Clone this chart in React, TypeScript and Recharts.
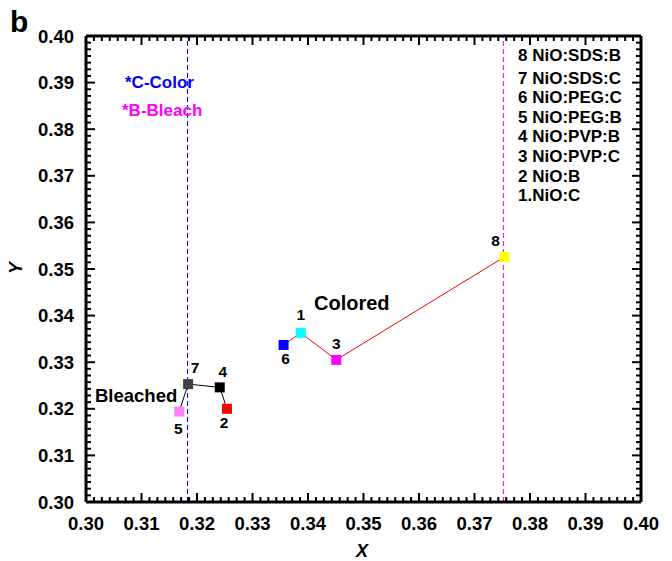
import React from 'react';
import { ScatterChart, Scatter, XAxis, YAxis, ReferenceLine } from 'recharts';

// sample points
const coloredIds = ['6', '1', '3', '8'];
const coloredX = [0.3356, 0.3387, 0.3451, 0.3754];
const coloredY = [0.3337, 0.3363, 0.3305, 0.3526];

const bleachedIds = ['5', '7', '4', '2'];
const bleachedX = [0.3168, 0.3184, 0.3241, 0.3254];
const bleachedY = [0.3194, 0.3253, 0.3246, 0.3200];

const majorTicks = [0.30, 0.31, 0.32, 0.33, 0.34, 0.35, 0.36, 0.37, 0.38, 0.39, 0.40];
const tickLabels = ['0.30', '0.31', '0.32', '0.33', '0.34', '0.35', '0.36', '0.37', '0.38', '0.39', '0.40'];

const colorLineX = 0.3183;
const bleachLineX = 0.3752;

const legendLines = [
  '8 NiO:SDS:B',
  '7 NiO:SDS:C',
  '6 NiO:PEG:C',
  '5 NiO:PEG:B',
  '4 NiO:PVP:B',
  '3 NiO:PVP:C',
  '2 NiO:B',
  '1.NiO:C',
];

const markerColors: Record<string, string> = {
  '1': '#00ffff',
  '2': '#ff0000',
  '3': '#ff00ff',
  '4': '#000000',
  '5': '#ff80ff',
  '6': '#0000ff',
  '7': '#404040',
  '8': '#ffff00',
};

const labelOffsets: Record<string, [number, number]> = {
  '1': [0, -18],
  '2': [-3, 14],
  '3': [0, -16],
  '4': [3, -16],
  '5': [-1, 17],
  '6': [2, 14],
  '7': [7, -17],
  '8': [-9, -16],
};

const FONT = '"Liberation Sans", Arial, Helvetica, sans-serif';

const coloredData = coloredIds.map((id, i) => ({ id, x: coloredX[i], y: coloredY[i] }));
const bleachedData = bleachedIds.map((id, i) => ({ id, x: bleachedX[i], y: bleachedY[i] }));

// 7 minor divisions per major step, like the original
const allTicks: number[] = [];
for (let i = 0; i <= 70; i++) allTicks.push(Math.round((0.3 + (i * 0.01) / 7) * 1e6) / 1e6);

const isMajor = (v: number) => Math.abs(v * 100 - Math.round(v * 100)) < 1e-4;
const labelFor = (v: number) => tickLabels[majorTicks.findIndex((m) => Math.abs(m - v) < 1e-6)] ?? '';

const BottomTick = ({ x, y, payload }: any) => (
  <g>
    <line x1={x} x2={x} y1={y} y2={y - (isMajor(payload.value) ? 9 : 5)} stroke="#000" strokeWidth={2} />
    <text x={x} y={y + 28} textAnchor="middle" fontSize={18.5} fontWeight="bold" fontFamily={FONT} fill="#000">
      {labelFor(payload.value)}
    </text>
  </g>
);

const TopTick = ({ x, y, payload }: any) => (
  <line x1={x} x2={x} y1={y} y2={y + (isMajor(payload.value) ? 9 : 5)} stroke="#000" strokeWidth={2} />
);

const LeftTick = ({ x, y, payload }: any) => (
  <g>
    <line x1={x} x2={x + (isMajor(payload.value) ? 9 : 5)} y1={y} y2={y} stroke="#000" strokeWidth={2} />
    <text x={x - 12} y={y + 6.5} textAnchor="end" fontSize={18.5} fontWeight="bold" fontFamily={FONT} fill="#000">
      {labelFor(payload.value)}
    </text>
  </g>
);

const RightTick = ({ x, y, payload }: any) => (
  <line x1={x} x2={x - (isMajor(payload.value) ? 9 : 5)} y1={y} y2={y} stroke="#000" strokeWidth={2} />
);

const Marker = (props: any) => {
  const { cx, cy, payload } = props;
  const id = payload.id;
  const [dx, dy] = labelOffsets[id];
  return (
    <g>
      <rect x={cx - 5} y={cy - 5} width={10} height={10} fill={markerColors[id]} />
      <text
        x={cx + dx}
        y={cy + dy + 5.5}
        textAnchor="middle"
        fontSize={15.5}
        fontWeight="bold"
        fontFamily={FONT}
        fill="#000"
      >
        {id}
      </text>
    </g>
  );
};

// html text placed by baseline (Liberation Sans, line-height 1)
const Txt = ({ left, base, size, color = '#000', italic = false, children, style }: any) => (
  <div
    style={{
      position: 'absolute',
      left,
      top: base - 0.8465 * size,
      fontSize: size,
      lineHeight: `${size}px`,
      fontFamily: FONT,
      fontWeight: 'bold',
      fontStyle: italic ? 'italic' : 'normal',
      color,
      whiteSpace: 'nowrap',
      ...style,
    }}
  >
    {children}
  </div>
);

export default function App() {
  return (
    <div style={{ position: 'absolute', left: 0, top: 0, width: 672, height: 561, background: '#fff' }}>
      <ScatterChart width={672} height={561} margin={{ top: 35, right: 30, bottom: 58, left: 85 }}>
        <XAxis
          dataKey="x"
          type="number"
          domain={[0.3, 0.4]}
          ticks={allTicks}
          interval={0}
          height={1}
          tickSize={0}
          tickMargin={0}
          tickLine={false}
          tick={<BottomTick />}
          axisLine={{ stroke: '#000', strokeWidth: 3 }}
        />
        <XAxis
          xAxisId="top"
          orientation="top"
          dataKey="x"
          type="number"
          domain={[0.3, 0.4]}
          ticks={allTicks}
          interval={0}
          height={1}
          tickSize={0}
          tickMargin={0}
          tickLine={false}
          tick={<TopTick />}
          axisLine={{ stroke: '#000', strokeWidth: 3 }}
        />
        <YAxis
          dataKey="y"
          type="number"
          domain={[0.3, 0.4]}
          ticks={allTicks}
          interval={0}
          width={1}
          tickSize={0}
          tickMargin={0}
          tickLine={false}
          tick={<LeftTick />}
          axisLine={{ stroke: '#000', strokeWidth: 3 }}
        />
        <YAxis
          yAxisId="right"
          orientation="right"
          dataKey="y"
          type="number"
          domain={[0.3, 0.4]}
          ticks={allTicks}
          interval={0}
          width={1}
          tickSize={0}
          tickMargin={0}
          tickLine={false}
          tick={<RightTick />}
          axisLine={{ stroke: '#000', strokeWidth: 3 }}
        />
        <ReferenceLine x={colorLineX} stroke="#0000cc" strokeDasharray="5 3" />
        <ReferenceLine x={bleachLineX} stroke="#ee00ee" strokeDasharray="5 3" />
        <Scatter
          data={bleachedData}
          line={{ stroke: '#000', strokeWidth: 1 }}
          shape={Marker}
          isAnimationActive={false}
        />
        <Scatter
          data={coloredData}
          line={{ stroke: '#ff0000', strokeWidth: 1 }}
          shape={Marker}
          isAnimationActive={false}
        />
        {/* keeps the mirrored top/right axes alive */}
        <Scatter
          xAxisId="top"
          yAxisId="right"
          data={coloredData}
          shape={() => null}
          isAnimationActive={false}
        />
      </ScatterChart>
      <Txt left={10} base={32} size={30}>b</Txt>
      <Txt left={125} base={88} size={17} color="#0000ff">*C-Color</Txt>
      <Txt left={122} base={116} size={17} color="#ff00ff">*B-Bleach</Txt>
      <Txt left={314} base={310} size={20}>Colored</Txt>
      <Txt left={95} base={403} size={18.5}>Bleached</Txt>
      {legendLines.map((s, i) => (
        <Txt key={s} left={518} base={61 + (i === 0 ? 0 : 23 + (i - 1) * 19.6)} size={17}>
          {s}
        </Txt>
      ))}
      <Txt left={352} base={557} size={18} italic style={{ width: 20, textAlign: 'center' }}>X</Txt>
      <Txt
        left={6}
        base={268 + 0.8465 * 18 - 9}
        size={18}
        italic
        style={{ width: 20, textAlign: 'center', transform: 'rotate(-90deg)' }}
      >
        Y
      </Txt>
    </div>
  );
}
